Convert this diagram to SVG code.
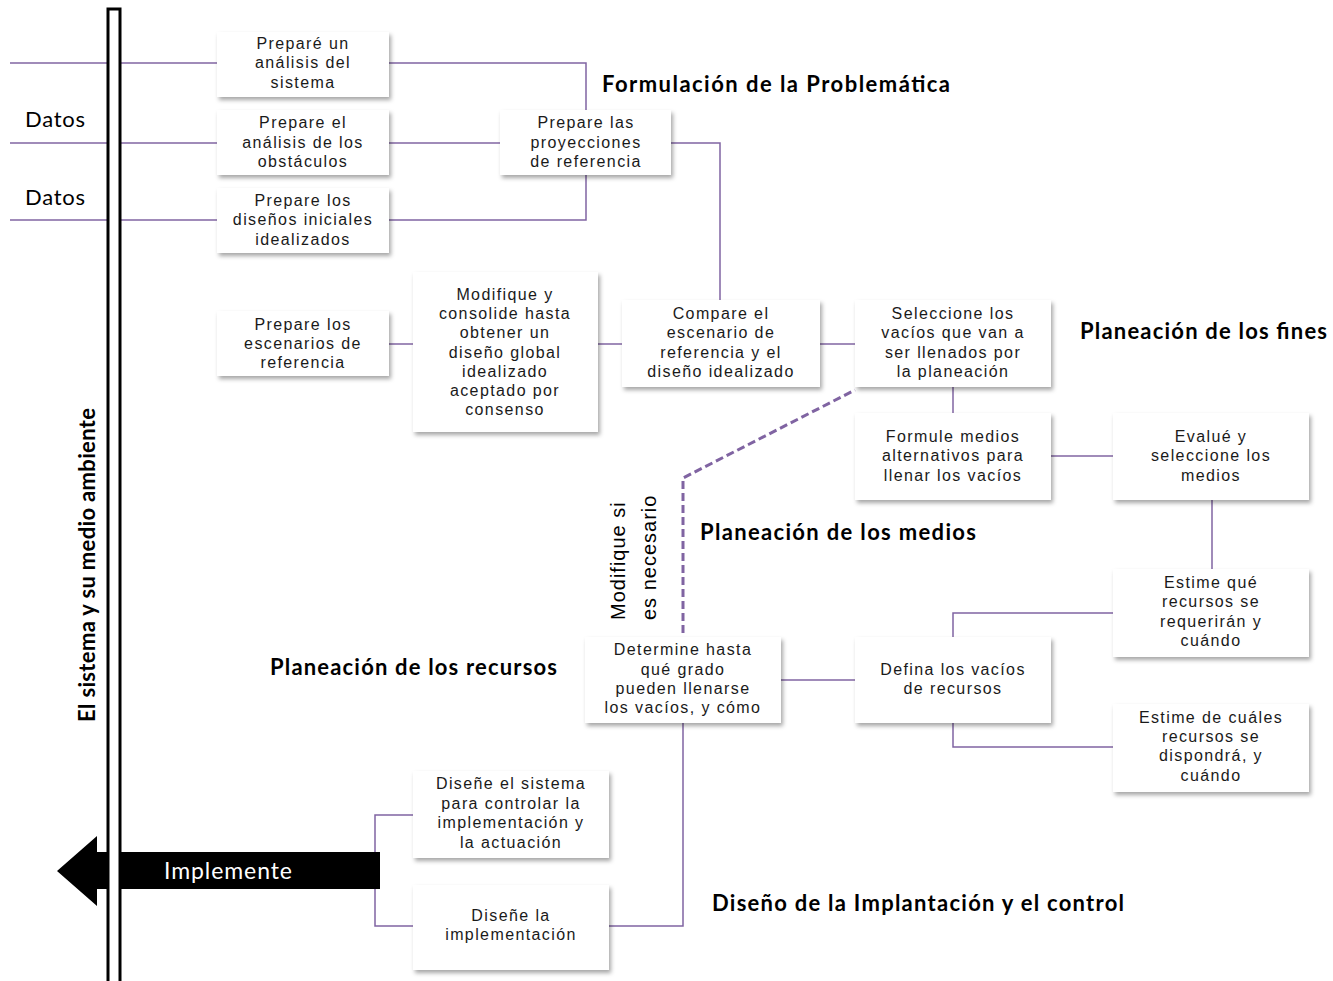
<svg xmlns="http://www.w3.org/2000/svg" width="1333" height="981" viewBox="0 0 1333 981">
<style>
.box{fill:#fff;filter:url(#sh)}
.t{font-family:"Liberation Sans",Arial,sans-serif;font-size:16px;letter-spacing:1.4px;fill:#1a1a1a;text-anchor:middle}
.h{font-family:Lato,"Open Sans",sans-serif;font-weight:bold;font-size:22px;fill:#000}
.c{fill:none;stroke:#8064A2;stroke-width:1.5}
.d{fill:none;stroke:#8064A2;stroke-width:3;stroke-dasharray:8 4}
.lbl{font-family:Lato,"Open Sans",sans-serif;font-size:22px;fill:#000}
</style>
<defs>
<filter id="sh" x="-10%" y="-10%" width="125%" height="130%">
<feDropShadow dx="2" dy="3" stdDeviation="2" flood-color="#000" flood-opacity="0.35"/>
</filter>
</defs>
<rect width="1333" height="981" fill="#fff"/>
<g id="connectors">
<path class="c" d="M10 63H217"/>
<path class="c" d="M10 143H217"/>
<path class="c" d="M10 220H217"/>
<path class="c" d="M389 63H586V110"/>
<path class="c" d="M389 143H500"/>
<path class="c" d="M389 220H586V175"/>
<path class="c" d="M671 143H720V300"/>
<path class="c" d="M389 344H413"/>
<path class="c" d="M598 344H622"/>
<path class="c" d="M820 344H855"/>
<path class="c" d="M953 387V413"/>
<path class="c" d="M1051 456H1113"/>
<path class="c" d="M1212 500V569"/>
<path class="c" d="M1113 613H953V637"/>
<path class="c" d="M953 723V747H1113"/>
<path class="c" d="M781 680H855"/>
<path class="c" d="M683 723V926H609"/>
<path class="c" d="M413 815H375V926H413"/>
<path class="d" d="M683 633V478L855 390"/>
</g>
<g id="implemente">
<polygon points="57,871 97,836 97,852 380,852 380,889 97,889 97,906" fill="#000"/>
<text x="164" y="879" font-family="Lato,'Open Sans',sans-serif" font-size="23" fill="#fff" textLength="128">Implemente</text>
</g>
<g id="system-bar">
<rect x="108" y="9" width="12" height="980" fill="#fff" stroke="#000" stroke-width="3"/>
<text class="h" transform="translate(95,565) rotate(-90)" text-anchor="middle" textLength="314">El sistema y su medio ambiente</text>
</g>
<text class="lbl" x="25" y="127" textLength="60">Datos</text>
<text class="lbl" x="25" y="205" textLength="60">Datos</text>
<g id="n1"><rect class="box" x="217" y="32" width="172" height="65"/>
<text class="t"><tspan x="303" y="49">Preparé un</tspan><tspan x="303" y="68">análisis del</tspan><tspan x="303" y="88">sistema</tspan></text></g>
<g id="n2"><rect class="box" x="217" y="110" width="172" height="65"/>
<text class="t"><tspan x="303" y="128">Prepare el</tspan><tspan x="303" y="148">análisis de los</tspan><tspan x="303" y="167">obstáculos</tspan></text></g>
<g id="n3"><rect class="box" x="217" y="188" width="172" height="65"/>
<text class="t"><tspan x="303" y="206">Prepare los</tspan><tspan x="303" y="225">diseños iniciales</tspan><tspan x="303" y="245">idealizados</tspan></text></g>
<g id="n4"><rect class="box" x="500" y="110" width="171" height="65"/>
<text class="t"><tspan x="586" y="128">Prepare las</tspan><tspan x="586" y="148">proyecciones</tspan><tspan x="586" y="167">de referencia</tspan></text></g>
<g id="n5"><rect class="box" x="217" y="311" width="172" height="65"/>
<text class="t"><tspan x="303" y="330">Prepare los</tspan><tspan x="303" y="349">escenarios de</tspan><tspan x="303" y="368">referencia</tspan></text></g>
<g id="n6"><rect class="box" x="413" y="272" width="185" height="160"/>
<text class="t"><tspan x="505" y="300">Modifique y</tspan><tspan x="505" y="319">consolide hasta</tspan><tspan x="505" y="338">obtener un</tspan><tspan x="505" y="358">diseño global</tspan><tspan x="505" y="377">idealizado</tspan><tspan x="505" y="396">aceptado por</tspan><tspan x="505" y="415">consenso</tspan></text></g>
<g id="n7"><rect class="box" x="622" y="300" width="198" height="87"/>
<text class="t"><tspan x="721" y="319">Compare el</tspan><tspan x="721" y="338">escenario de</tspan><tspan x="721" y="358">referencia y el</tspan><tspan x="721" y="377">diseño idealizado</tspan></text></g>
<g id="n8"><rect class="box" x="855" y="300" width="196" height="87"/>
<text class="t"><tspan x="953" y="319">Seleccione los</tspan><tspan x="953" y="338">vacíos que van a</tspan><tspan x="953" y="358">ser llenados por</tspan><tspan x="953" y="377">la planeación</tspan></text></g>
<g id="n9"><rect class="box" x="855" y="413" width="196" height="87"/>
<text class="t"><tspan x="953" y="442">Formule medios</tspan><tspan x="953" y="461">alternativos para</tspan><tspan x="953" y="481">llenar los vacíos</tspan></text></g>
<g id="n10"><rect class="box" x="1113" y="413" width="196" height="87"/>
<text class="t"><tspan x="1211" y="442">Evalué y</tspan><tspan x="1211" y="461">seleccione los</tspan><tspan x="1211" y="481">medios</tspan></text></g>
<g id="n11"><rect class="box" x="1113" y="569" width="196" height="88"/>
<text class="t"><tspan x="1211" y="588">Estime qué</tspan><tspan x="1211" y="607">recursos se</tspan><tspan x="1211" y="627">requerirán y</tspan><tspan x="1211" y="646">cuándo</tspan></text></g>
<g id="n12"><rect class="box" x="1113" y="704" width="196" height="88"/>
<text class="t"><tspan x="1211" y="723">Estime de cuáles</tspan><tspan x="1211" y="742">recursos se</tspan><tspan x="1211" y="761">dispondrá, y</tspan><tspan x="1211" y="781">cuándo</tspan></text></g>
<g id="n13"><rect class="box" x="855" y="637" width="196" height="86"/>
<text class="t"><tspan x="953" y="675">Defina los vacíos</tspan><tspan x="953" y="694">de recursos</tspan></text></g>
<g id="n14"><rect class="box" x="585" y="637" width="196" height="86"/>
<text class="t"><tspan x="683" y="655">Determine hasta</tspan><tspan x="683" y="675">qué grado</tspan><tspan x="683" y="694">pueden llenarse</tspan><tspan x="683" y="713">los vacíos, y cómo</tspan></text></g>
<g id="n15"><rect class="box" x="413" y="771" width="196" height="87"/>
<text class="t"><tspan x="511" y="789">Diseñe el sistema</tspan><tspan x="511" y="809">para controlar la</tspan><tspan x="511" y="828">implementación y</tspan><tspan x="511" y="848">la actuación</tspan></text></g>
<g id="n16"><rect class="box" x="413" y="885" width="196" height="85"/>
<text class="t"><tspan x="511" y="921">Diseñe la</tspan><tspan x="511" y="940">implementación</tspan></text></g>
<g id="labels">
<text class="h" x="602" y="92" textLength="348">Formulación de la Problemática</text>
<text class="h" x="1080" y="339" textLength="247">Planeación de los fines</text>
<text class="h" x="700" y="540" textLength="276">Planeación de los medios</text>
<text class="h" x="270" y="675" textLength="287">Planeación de los recursos</text>
<text class="h" x="712" y="911" textLength="412">Diseño de la Implantación y el control</text>
<text font-family="'Liberation Sans',Arial,sans-serif" font-size="20" fill="#000" letter-spacing="1" transform="translate(625,620) rotate(-90)">Modifique si</text>
<text font-family="'Liberation Sans',Arial,sans-serif" font-size="20" fill="#000" letter-spacing="1" transform="translate(656,620) rotate(-90)">es necesario</text>
</g>
</svg>
